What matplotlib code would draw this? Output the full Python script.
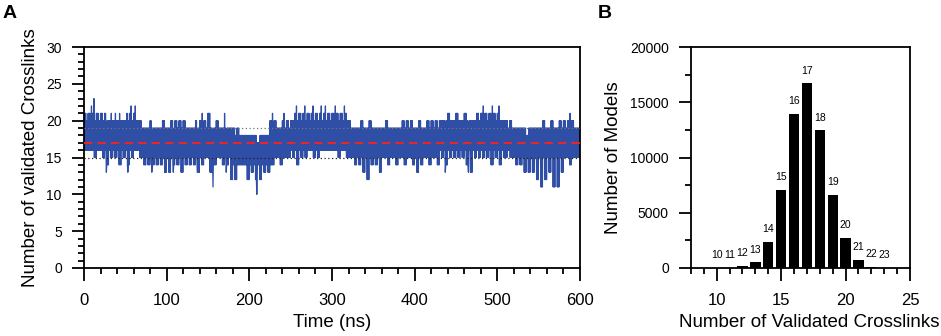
import matplotlib
matplotlib.use("Agg")
import matplotlib.pyplot as plt
import numpy as np
from matplotlib.ticker import MultipleLocator

plt.rcParams["font.family"] = ["Liberation Sans", "DejaVu Sans"]

window_ns = 5
edge_hi = [21, 21, 21, 21, 21, 21, 20, 20, 20, 20, 20, 21, 21, 20, 19, 19, 20, 19, 19, 20,
           19, 20, 20, 20, 20, 19, 19, 20, 20, 20,
           21, 19, 20, 19, 19, 19, 19, 19, 18, 18, 18, 18, 17, 18, 18, 20, 20, 19, 20, 20,
           20, 21, 21, 21, 21, 21, 21, 21, 21, 21,
           21, 21, 21, 21, 20, 19, 19, 20, 19, 20, 19, 19, 19, 20, 19, 19, 19, 20, 20, 20,
           19, 20, 19, 20, 20, 20, 20, 20, 21, 20,
           21, 20, 21, 20, 20, 21, 21, 21, 21, 21, 21, 20, 20, 20, 19, 19, 19, 18, 19, 19,
           19, 20, 19, 20, 19, 20, 20, 20, 20, 19]
edge_lo = [16, 16, 15, 16, 15, 14, 15, 15, 14, 15, 14, 15, 16, 15, 14, 14, 14, 14, 14, 13,
           13, 14, 14, 13, 14, 14, 14, 13, 14, 15,
           13, 14, 15, 14, 14, 12, 12, 14, 14, 12, 13, 12, 12, 13, 13, 14, 15, 14, 15, 15,
           15, 14, 15, 15, 16, 15, 15, 16, 16, 16,
           16, 15, 16, 15, 15, 14, 14, 13, 12, 14, 14, 13, 15, 14, 15, 14, 15, 14, 15, 14,
           13, 14, 15, 14, 15, 14, 15, 14, 15, 15,
           15, 15, 14, 13, 15, 15, 15, 15, 14, 15, 14, 15, 16, 15, 14, 14, 13, 13, 13, 12,
           11, 12, 13, 11, 11, 13, 15, 14, 15, 15]
# dense band, read in 10 ns windows
band_hi = [20, 20, 20, 20, 20, 20, 20, 19, 19, 19,
           19, 19, 19, 19, 19, 19, 19, 19, 18, 18,
           18, 18, 18, 19, 19, 20, 20, 20, 20, 20,
           20, 20, 19, 19, 19, 19, 19, 19, 19, 19,
           19, 19, 19, 20, 20, 20, 20, 20, 20, 20,
           20, 19, 19, 19, 19, 19, 19, 19, 19, 19]
band_lo = [16, 16, 16, 16, 16, 16, 16, 15, 15, 15,
           15, 15, 15, 15, 15, 15, 15, 15, 14, 14,
           14, 14, 14, 15, 15, 16, 16, 16, 16, 16,
           16, 16, 15, 15, 15, 15, 15, 15, 15, 15,
           15, 15, 15, 16, 16, 16, 16, 16, 16, 16,
           16, 15, 15, 15, 15, 15, 15, 15, 15, 15]
# single-frame spikes (time in ns, value)
spike_t = [9, 12, 27, 33, 38, 43, 52, 57, 62, 143, 152, 170, 228, 242, 257, 267, 277,
           287, 292, 304, 315, 437, 483, 494, 502, 588,
           27, 53, 82, 108, 137, 156, 172, 209, 437, 465]
spike_v = [22, 23, 22, 21, 21, 21, 21, 22, 22, 21, 21, 21, 21, 21, 22, 22, 22,
           22, 22, 22, 22, 22, 22, 22, 22, 21,
           13, 13, 13, 13, 13, 11, 13, 10, 13, 13]
mean_level = 17
band_lines = [15, 19]

# Panel B: histogram of validated crosslinks
n_crosslinks = [10, 11, 12, 13, 14, 15, 16, 17, 18, 19, 20, 21, 22, 23]
n_models = [5, 25, 170, 520, 2360, 7050, 13950, 16700, 12450, 6650, 2750, 730, 90, 15]

# expand the windows into frames, 0.5 ns apart
frames = []
for i, (hi, lo) in enumerate(zip(edge_hi, edge_lo)):
    c_hi, c_lo = band_hi[i // 2], band_lo[i // 2]
    frames += [hi, c_lo, hi, c_lo, hi, lo, c_hi, lo, c_hi, lo]
frames = np.array(frames, dtype=float)
dt = window_ns / 10.0
time_ns = np.arange(len(frames)) * dt
for t, v in zip(spike_t, spike_v):
    frames[int(round(t / dt))] = v

fig = plt.figure(figsize=(9.41, 3.36), dpi=100)
ax1 = fig.add_axes([0.0893, 0.2024, 0.5271, 0.6577])
ax2 = fig.add_axes([0.7343, 0.2024, 0.2327, 0.6577])

# A
ax1.plot(time_ns, frames, color="#2f4ea6", linewidth=0.9, zorder=2)
ax1.axhline(band_lines[1], color="#777777", linestyle=(0, (1, 2)), linewidth=0.9, zorder=3)
ax1.axhline(band_lines[0], color="#222222", linestyle=(0, (1, 2)), linewidth=0.9, zorder=3)
ax1.axhline(mean_level, color="#e8262a", linestyle=(0, (4, 2.5)), linewidth=1.5, zorder=4)
ax1.set_xlim(0, 600)
ax1.set_ylim(0, 30)
ax1.xaxis.set_major_locator(MultipleLocator(100))
ax1.xaxis.set_minor_locator(MultipleLocator(20))
ax1.yaxis.set_major_locator(MultipleLocator(5))
ax1.yaxis.set_minor_locator(MultipleLocator(1))
ax1.set_xlabel("Time (ns)", fontsize=13.5, labelpad=4)
ax1.set_ylabel("Number of validated Crosslinks", fontsize=13.5, labelpad=5)

# B
ax2.bar(n_crosslinks, n_models, width=0.8, color="black", zorder=2)
for x, v in zip(n_crosslinks, n_models):
    ax2.annotate(str(x), (x, v), xytext=(0, 5.5), textcoords="offset points",
                 ha="center", va="bottom", fontsize=7.5)
ax2.set_xlim(8, 25)
ax2.set_ylim(0, 20000)
ax2.xaxis.set_major_locator(MultipleLocator(5))
ax2.xaxis.set_minor_locator(MultipleLocator(1))
ax2.yaxis.set_major_locator(MultipleLocator(5000))
ax2.yaxis.set_minor_locator(MultipleLocator(2500))
ax2.set_xlabel("Number of Validated Crosslinks", fontsize=13.5, labelpad=4)
ax2.xaxis.label.set_x(0.54)
ax2.set_ylabel("Number of Models", fontsize=13.5, labelpad=6)

for ax in (ax1, ax2):
    for sp in ax.spines.values():
        sp.set_linewidth(1.3)
    ax.tick_params(which="both", direction="out", top=False, right=False, width=1.3)
    ax.tick_params(which="major", length=9)
    ax.tick_params(which="minor", length=4)
    ax.tick_params(axis="x", labelsize=12, pad=9)
    ax.tick_params(axis="y", labelsize=10, pad=7)

fig.text(0.003, 0.985, "A", fontsize=14, fontweight="bold", va="top")
fig.text(0.635, 0.985, "B", fontsize=14, fontweight="bold", va="top")

fig.savefig("out.png", dpi=100)
